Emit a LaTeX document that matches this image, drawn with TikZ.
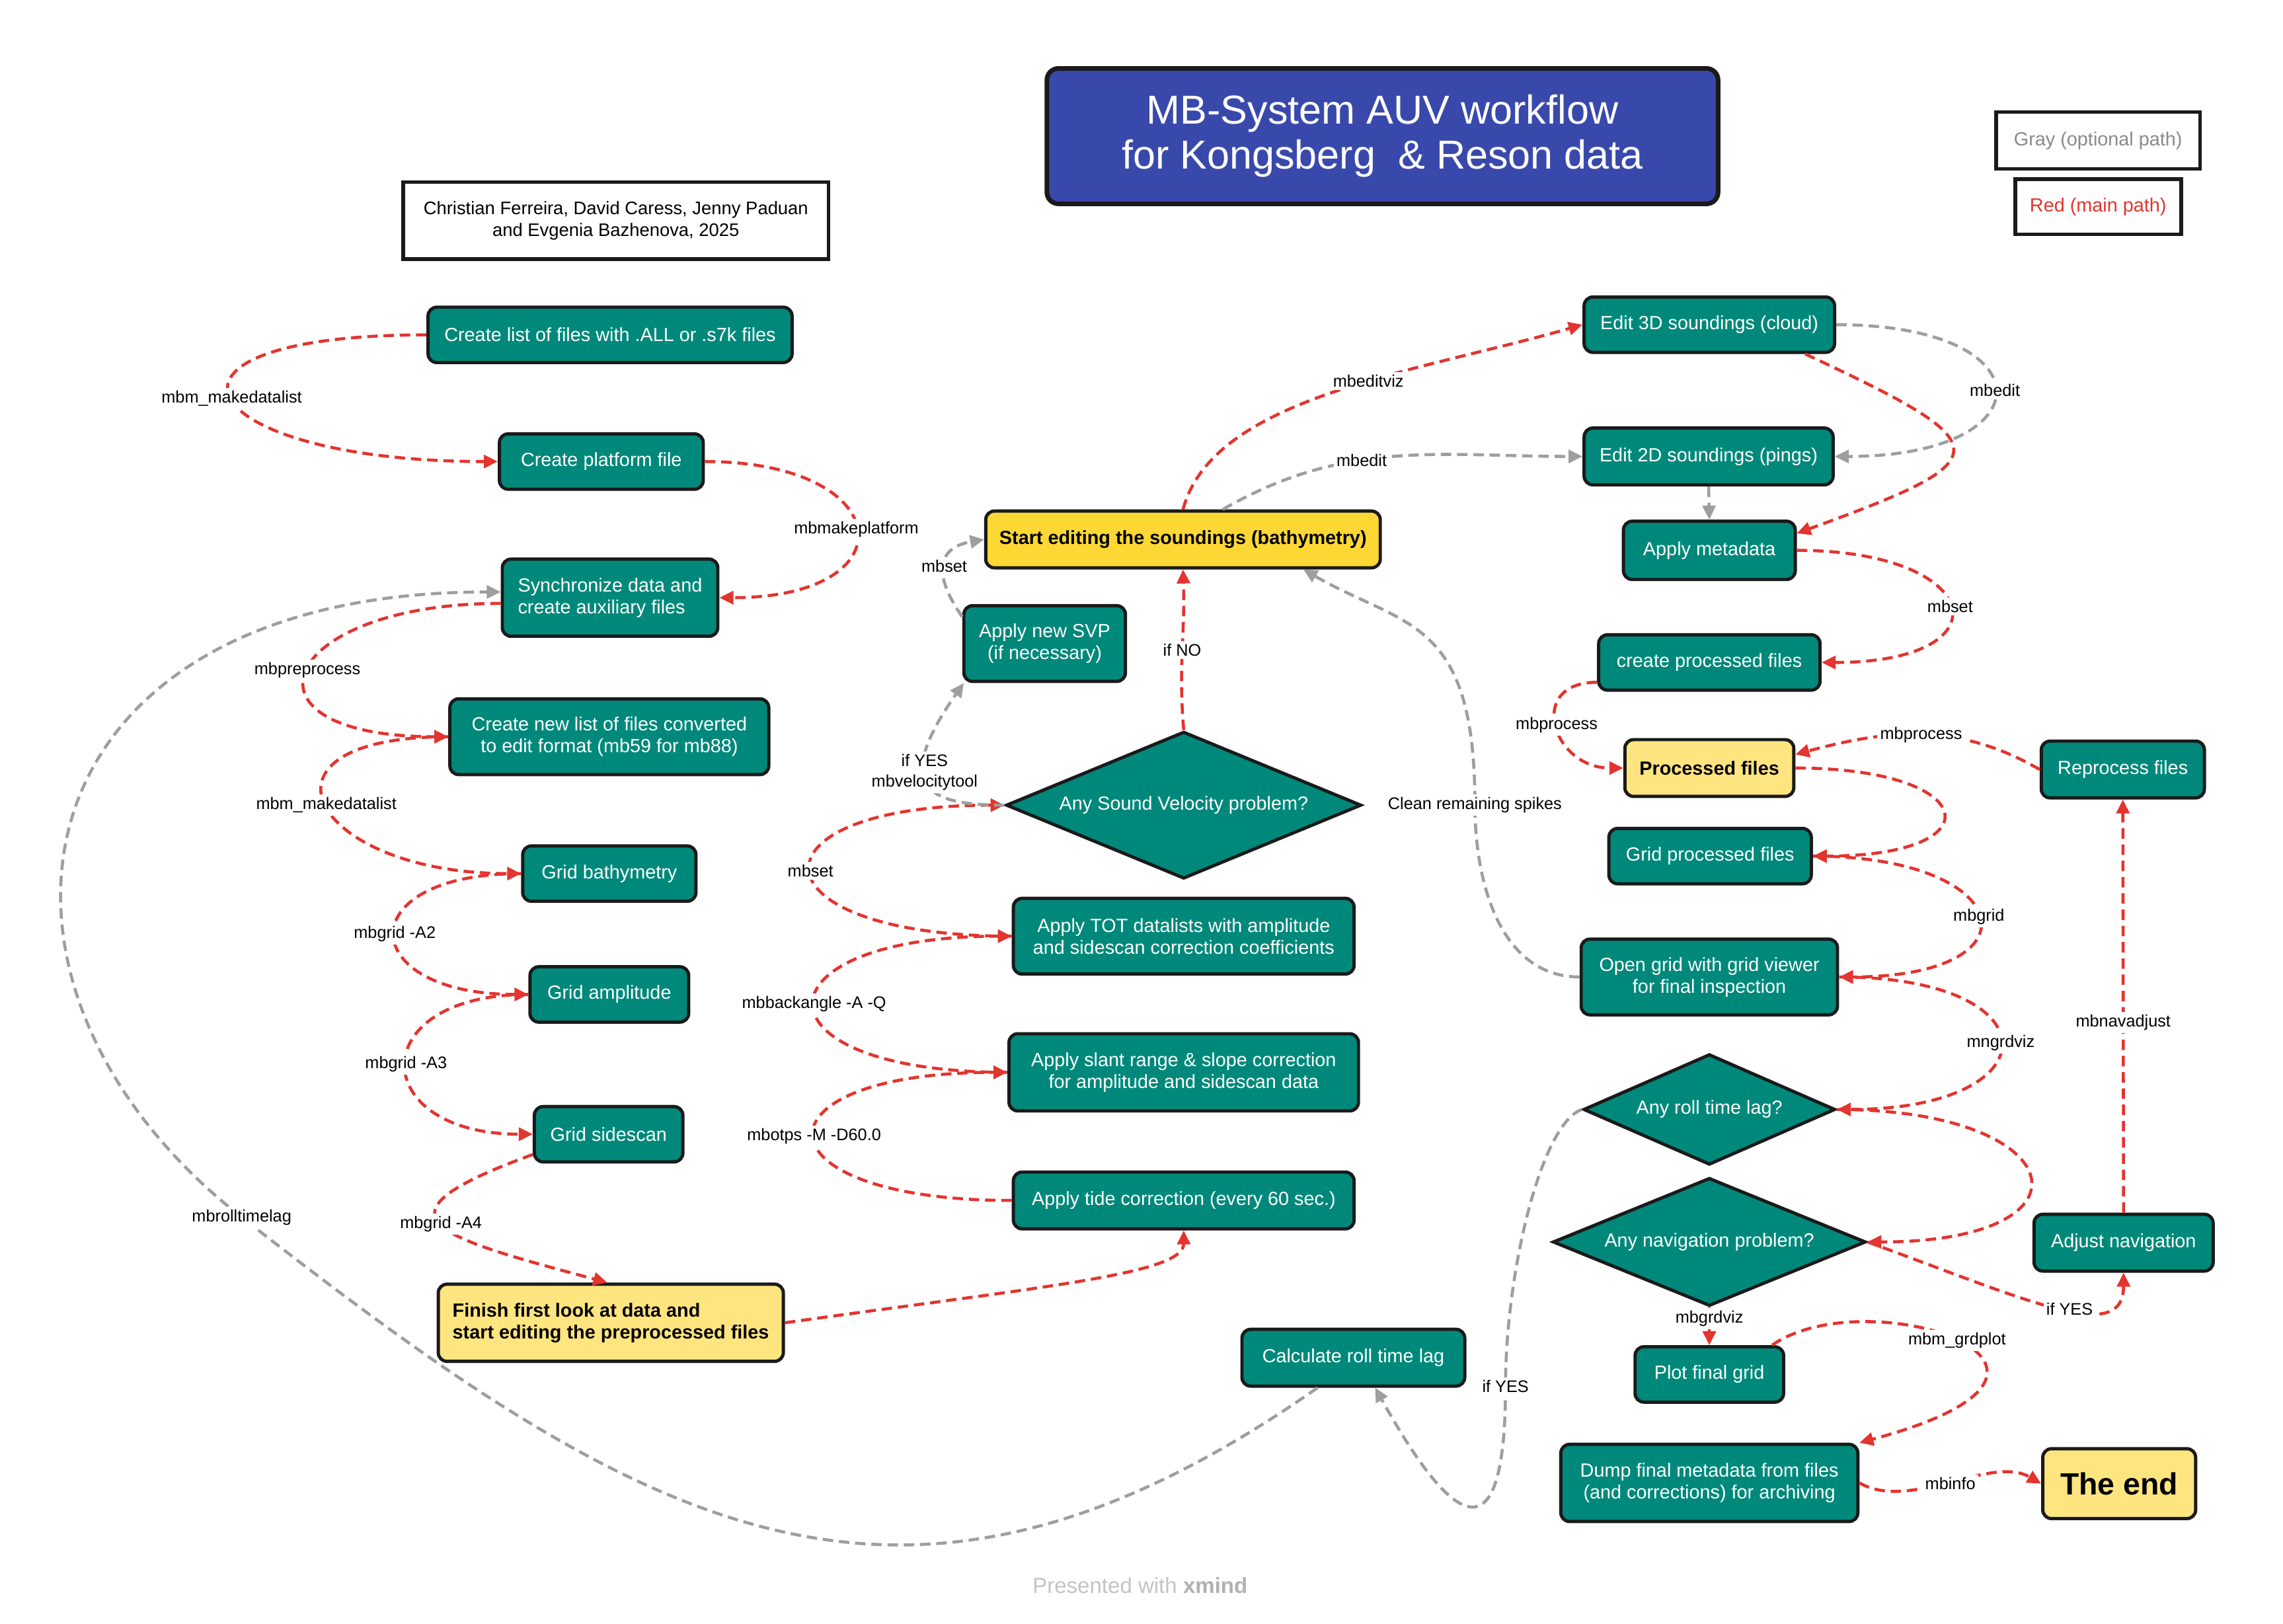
\documentclass[tikz,border=0pt]{standalone}
\usepackage{fontspec}
\setmainfont{Liberation Sans}
\usetikzlibrary{shapes.geometric,arrows.meta}

\newlength{\pxu}
\setlength{\pxu}{0.22028mm}

\definecolor{tealbox}{HTML}{00897B}
\definecolor{titleblue}{HTML}{3949AB}
\definecolor{startyellow}{HTML}{FDD835}
\definecolor{softyellow}{HTML}{FFE57F}
\definecolor{mainred}{HTML}{E3342F}
\definecolor{optgray}{HTML}{9E9E9E}
\definecolor{keygray}{HTML}{8A8A8A}
\definecolor{boxline}{HTML}{1A1A1A}
\definecolor{creditgray}{HTML}{C4C4C4}

\newcommand{\nodefont}{\fontsize{8.2}{9.4}\selectfont}
\newcommand{\cmdfont}{\fontsize{7.2}{8.6}\selectfont}
\newcommand{\bannerfont}{\fontsize{17.4}{19.4}\selectfont}
\newcommand{\finalfont}{\fontsize{13.2}{15}\selectfont\bfseries}

\tikzset{
    boxsize/.style 2 args={minimum width=#1\pxu, minimum height=#2\pxu},
    task/.style={draw=boxline, line width=1.4pt, rounded corners=6\pxu, fill=tealbox,
        text=white, font=\nodefont, align=center, inner sep=2pt},
    keytask/.style={task, fill=softyellow, text=black, font=\nodefont\bfseries},
    decision/.style={diamond, draw=boxline, line width=1.4pt, fill=tealbox,
        text=white, font=\nodefont, inner sep=0pt, aspect=2.4},
    plainbox/.style={draw=boxline, line width=1.6pt, fill=white, align=center, inner sep=2pt},
    mainpath/.style={draw=mainred, line width=1.3pt, dash pattern=on 4.5pt off 2.5pt,
        -{Triangle[length=6pt,width=5.6pt]}},
    optpath/.style={mainpath, draw=optgray},
    cmd/.style={fill=white, font=\cmdfont, text=black, inner sep=1.2pt}
}

\begin{document}
\begin{tikzpicture}[x=0.22028mm, y=0.22028mm]
    \fill[white] (0,0) rectangle (1568,-1115);
    \useasboundingbox (0,0) rectangle (1568,-1115);

    \node[plainbox, boxsize={461}{93}, fill=titleblue, text=white, font=\bannerfont,
        line width=2pt, rounded corners=8\pxu] (title) at (949.5,-93.5)
        {MB-System AUV workflow\\for Kongsberg~ \& Reson data};
    \node[plainbox, boxsize={140}{39}, text=keygray, font=\nodefont] (graykey) at (1441,-96.5) {Gray (optional path)};
    \node[plainbox, boxsize={114}{38}, text=mainred, font=\nodefont] (redkey) at (1441,-142) {Red (main path)};
    \node[plainbox, boxsize={292}{53}, font=\fontsize{7.8}{9.4}\selectfont] (authors) at (423,-151.5)
        {Christian Ferreira, David Caress, Jenny Paduan\\and Evgenia Bazhenova, 2025};

    \node[task, boxsize={250}{38}] (list) at (419,-230) {Create list of files with .ALL or .s7k files};
    \node[task, boxsize={140}{38}] (platform) at (413,-317) {Create platform file};
    \node[task, boxsize={148}{53}, align=left] (sync) at (419,-410.5) {Synchronize data and\\create auxiliary files};
    \node[task, boxsize={219}{52}] (newlist) at (418.5,-506) {Create new list of files converted\\to edit format (mb59 for mb88)};
    \node[task, boxsize={119}{38}] (gridbathy) at (418.5,-600) {Grid bathymetry};
    \node[task, boxsize={109}{38}] (gridamp) at (418.5,-683) {Grid amplitude};
    \node[task, boxsize={102}{38}] (gridss) at (418,-779) {Grid sidescan};
    \node[keytask, boxsize={237}{53}, align=left] (finish) at (419.5,-908.5) {Finish first look at data and\\start editing the preprocessed files};

    \node[keytask, boxsize={271}{39}, fill=startyellow] (startedit) at (812.5,-370.5) {Start editing the soundings (bathymetry)};
    \node[task, boxsize={111}{52}] (svp) at (717.5,-442) {Apply new SVP\\(if necessary)};
    \node[decision, boxsize={244}{101}] (svq) at (813,-553) {Any Sound Velocity problem?};
    \node[task, boxsize={234}{52}] (tot) at (813,-643) {Apply TOT datalists with amplitude\\and sidescan correction coefficients};
    \node[task, boxsize={240}{53}] (slant) at (813,-736.5) {Apply slant range \& slope correction\\for amplitude and sidescan data};
    \node[task, boxsize={234}{39}] (tide) at (813,-824.5) {Apply tide correction (every 60 sec.)};
    \node[task, boxsize={153}{39}] (rolllag) at (929.5,-932.5) {Calculate roll time lag};

    \node[task, boxsize={172}{38}] (edit3d) at (1174,-223) {Edit 3D soundings (cloud)};
    \node[task, boxsize={171}{39}] (edit2d) at (1173.5,-313.5) {Edit 2D soundings (pings)};
    \node[task, boxsize={118}{40}] (metadata) at (1174,-378) {Apply metadata};
    \node[task, boxsize={152}{38}] (createproc) at (1174,-455) {create processed files};
    \node[keytask, boxsize={116}{39}] (processed) at (1174,-527.5) {Processed files};
    \node[task, boxsize={112}{39}] (reprocess) at (1458,-528.5) {Reprocess files};
    \node[task, boxsize={139}{38}] (gridproc) at (1174.5,-588) {Grid processed files};
    \node[task, boxsize={176}{52}] (opengrid) at (1174,-671) {Open grid with grid viewer\\for final inspection};
    \node[decision, boxsize={173}{76}, aspect=2.28] (roll) at (1174,-762) {Any roll time lag?};
    \node[decision, boxsize={215}{88}, aspect=2.44] (nav) at (1174,-853) {Any navigation problem?};
    \node[task, boxsize={123}{39}] (adjustnav) at (1458.5,-853.5) {Adjust navigation};
    \node[task, boxsize={102}{38}] (plotgrid) at (1174,-944) {Plot final grid};
    \node[task, boxsize={204}{53}] (dump) at (1174,-1018.5) {Dump final metadata from files\\(and corrections) for archiving};
    \node[keytask, boxsize={105}{48}, font=\finalfont] (theend) at (1455.5,-1019) {The end};

    \node[text=creditgray, font=\fontsize{9.4}{11}\selectfont] (credit) at (783,-1089)
        {Presented with {\bfseries\color{optgray!80}xmind}};

    \coordinate (spikesbend) at (1013,-553);
    \coordinate (lagbend) at (1034,-952);
    \coordinate (timelagbend) at (166,-836);

    \draw[mainpath] (list.west) to[out=180,in=180,distance=211\pxu] node[cmd]{mbm\_makedatalist} (platform.west);
    \draw[mainpath] (platform.east) to[out=0,in=0,distance=132\pxu] node[cmd]{mbmakeplatform} (sync.east);
    \draw[mainpath] (sync.183) to[out=180,in=180,distance=153\pxu] node[cmd]{mbpreprocess} (newlist.west);
    \draw[mainpath] (newlist.west) to[out=180,in=180,distance=145\pxu] node[cmd]{mbm\_makedatalist} (gridbathy.west);
    \draw[mainpath] (gridbathy.west) to[out=180,in=180,distance=119\pxu] node[cmd]{mbgrid -A2} (gridamp.west);
    \draw[mainpath] (gridamp.west) to[out=180,in=180,distance=114\pxu] node[cmd]{mbgrid -A3} (gridss.west);
    \draw[mainpath] (gridss.195) to[out=200,in=165,distance=124\pxu] node[cmd]{mbgrid -A4} (finish.95);
    \draw[mainpath] (finish.east) to[out=8,in=-90,out distance=180\pxu,in distance=30\pxu] (tide.south);
    \draw[mainpath] (tide.west) to[out=180,in=180,distance=179\pxu] node[cmd]{mbotps -M -D60.0} (slant.west);
    \draw[mainpath] (slant.west) to[out=180,in=180,distance=179\pxu] node[cmd]{mbbackangle -A -Q} (tot.west);
    \draw[mainpath] (tot.west) to[out=180,in=180,distance=181\pxu] node[cmd]{mbset} (svq.west);
    \draw[mainpath] (svq.north) to[out=95,in=-88] node[cmd]{if NO} (startedit.south);
    \draw[mainpath] (startedit.north) to[out=75,in=196,out distance=80\pxu,in distance=120\pxu]
        node[cmd,pos=.58]{mbeditviz} (edit3d.west);
    \draw[mainpath] (edit3d.-17) to[out=-25,in=20,distance=150\pxu] (metadata.11);
    \draw[mainpath] (metadata.east) to[out=0,in=0,distance=129\pxu] node[cmd]{mbset} (createproc.east);
    \draw[mainpath] (createproc.190) to[out=180,in=180,distance=49\pxu] node[cmd]{mbprocess} (processed.west);
    \draw[mainpath] (processed.east) to[out=0,in=0,distance=127\pxu] (gridproc.east);
    \draw[mainpath] (gridproc.east) to[out=0,in=0,distance=140\pxu] node[cmd]{mbgrid} (opengrid.east);
    \draw[mainpath] (opengrid.east) to[out=0,in=0,distance=149\pxu] node[cmd]{mngrdviz} (roll.east);
    \draw[mainpath] (roll.east) to[out=0,in=0,distance=162\pxu] (nav.east);
    \draw[mainpath] (nav.east) to[out=-20,in=-90,out distance=120\pxu,in distance=50\pxu]
        node[cmd,pos=.55]{if YES} (adjustnav.south);
    \draw[mainpath] (adjustnav.north) -- node[cmd,pos=.46]{mbnavadjust} (reprocess.south);
    \draw[mainpath] (reprocess.west) to[out=150,in=15] node[cmd]{mbprocess} (processed.9);
    \draw[mainpath] (nav.south) -- node[cmd,pos=.3]{mbgrdviz} (plotgrid.north);
    \draw[mainpath] (plotgrid.25) to[out=35,in=15,out distance=80\pxu,in distance=200\pxu]
        node[cmd]{mbm\_grdplot} (dump.15);
    \draw[mainpath] (dump.east) to[out=-30,in=150,distance=40\pxu] node[cmd]{mbinfo} (theend.west);

    \draw[optpath] (svp.162) to[out=125,in=190,distance=34\pxu] node[cmd]{mbset} (startedit.west);
    \draw[optpath] (svq.west) to[out=180,in=235,out distance=50\pxu,in distance=90\pxu]
        node[cmd,pos=.6,align=center]{if YES\\mbvelocitytool} (svp.206);
    \draw[optpath] (startedit.37) to[out=30,in=180] node[cmd,pos=.4]{mbedit} (edit2d.west);
    \draw[optpath] (edit3d.east) to[out=0,in=0,distance=146\pxu] node[cmd]{mbedit} (edit2d.east);
    \draw[optpath] (edit2d.south) -- (metadata.north);
    \draw[optpath] (opengrid.west) to[out=180,in=-90] (spikesbend) node[cmd]{Clean remaining spikes}
        to[out=90,in=-30,out distance=130\pxu,in distance=80\pxu] (startedit.-14);
    \draw[optpath] (roll.west) to[out=200,in=90,out distance=30\pxu] (lagbend) node[cmd]{if YES}
        to[out=-90,in=-61,distance=116\pxu] (rolllag.-54);
    \draw[optpath] (rolllag.-140) to[out=215,in=-38,distance=350\pxu] (timelagbend) node[cmd]{mbrolltimelag}
        to[out=142,in=180,out distance=260\pxu,in distance=340\pxu] (sync.177);
\end{tikzpicture}
\end{document}
